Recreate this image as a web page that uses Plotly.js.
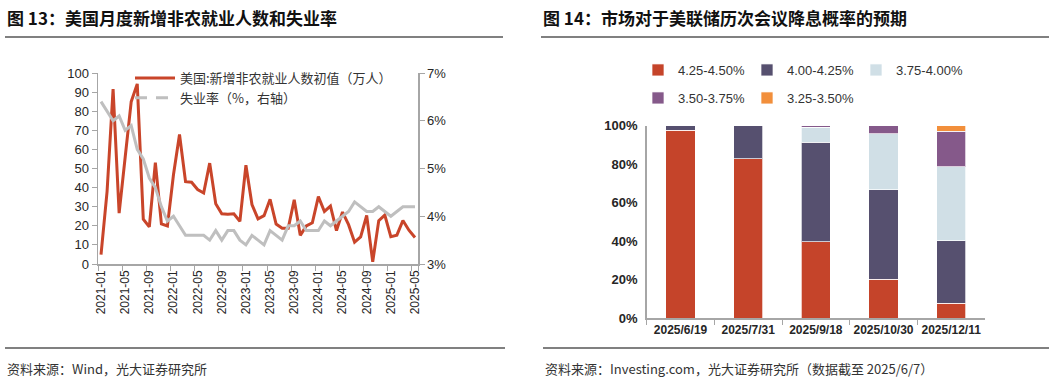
<!DOCTYPE html>
<html>
<head>
<meta charset="utf-8">
<script src="https://cdn.plot.ly/plotly-3.0.1.min.js"></script>
<style>
html,body{margin:0;padding:0;background:#fff;}
#chart{width:1054px;height:383px;}
</style>
</head>
<body>
<div id="chart"></div>
<script>
// ---- Left chart data ----
const months = [
 "2021-01","2021-02","2021-03","2021-04","2021-05","2021-06","2021-07","2021-08","2021-09","2021-10","2021-11","2021-12",
 "2022-01","2022-02","2022-03","2022-04","2022-05","2022-06","2022-07","2022-08","2022-09","2022-10","2022-11","2022-12",
 "2023-01","2023-02","2023-03","2023-04","2023-05","2023-06","2023-07","2023-08","2023-09","2023-10","2023-11","2023-12",
 "2024-01","2024-02","2024-03","2024-04","2024-05","2024-06","2024-07","2024-08","2024-09","2024-10","2024-11","2024-12",
 "2025-01","2025-02","2025-03","2025-04","2025-05"];
const payrolls = [
 4.9,37.9,91.6,26.6,55.9,85.0,94.3,23.5,19.4,53.1,21.0,19.9,
 46.7,67.8,43.1,42.8,39.0,37.2,52.8,31.5,26.3,26.1,26.3,22.3,
 51.7,31.1,23.6,25.3,33.9,20.9,18.7,18.7,33.6,15.0,19.9,21.6,
 35.3,27.5,30.3,17.5,27.2,20.6,11.4,14.2,25.4,1.2,22.7,25.6,
 14.3,15.1,22.8,17.7,13.9];
const unemployment = [
 6.4,6.2,6.0,6.1,5.8,5.9,5.4,5.2,4.8,4.6,4.2,3.9,
 4.0,3.8,3.6,3.6,3.6,3.6,3.5,3.7,3.5,3.7,3.7,3.5,
 3.4,3.6,3.5,3.4,3.7,3.6,3.5,3.8,3.8,3.9,3.7,3.7,
 3.7,3.9,3.8,3.9,4.0,4.1,4.3,4.2,4.1,4.1,4.2,4.1,
 4.0,4.1,4.2,4.2,4.2];
const leftTickLabels = ["2021-01","2021-05","2021-09","2022-01","2022-05","2022-09","2023-01","2023-05","2023-09","2024-01","2024-05","2024-09","2025-01","2025-05"];

// ---- Right chart data ----
const meetings = ["2025/6/19","2025/7/31","2025/9/18","2025/10/30","2025/12/11"];
const r425_450 = [97.6, 82.9, 39.7, 20.1, 7.6];
const r400_425 = [2.4, 17.1, 51.7, 46.5, 32.6];
const r375_400 = [0, 0, 7.9, 29.1, 38.5];
const r350_375 = [0, 0, 0.7, 4.2, 18.5];
const r325_350 = [0, 0, 0, 0.1, 2.8];
const rangeNames = ["4.25-4.50%","4.00-4.25%","3.75-4.00%","3.50-3.75%","3.25-3.50%"];
const rangeColors = ["#c5442a","#56506f","#d0dfe6","#85598a","#f28f3b"];

const W = 1054, H = 383;
const px = x => x / W;
const py = y => (H - y) / H;

const FONT_LAT = "Liberation Sans, Arial, sans-serif";
const FONT_CJK = "Noto Sans CJK SC, sans-serif";
const AXIS_GRAY = "#a6a6a6";

const traces = [
  {
    type: "scatter", mode: "lines", x: months, y: payrolls,
    name: "美国:新增非农就业人数初值（万人）",
    line: {color: "#c9452a", width: 3},
    xaxis: "x", yaxis: "y", legend: "legend"
  },
  {
    type: "scatter", mode: "lines", x: months, y: unemployment,
    name: "失业率（%，右轴）", showlegend: false,
    line: {color: "#bfbfbf", width: 3},
    xaxis: "x", yaxis: "y2"
  },
  {
    type: "scatter", mode: "lines", x: [null], y: [null],
    name: "失业率（%，右轴）",
    line: {color: "#bfbfbf", width: 3, dash: "12px,9px"},
    xaxis: "x", yaxis: "y2", legend: "legend"
  }
];

const seriesVals = [r425_450, r400_425, r375_400, r350_375, r325_350];
seriesVals.forEach((vals, i) => {
  traces.push({
    type: "bar", x: meetings, y: vals, name: rangeNames[i],
    marker: {color: rangeColors[i], line: {color: "rgba(255,255,255,0.7)", width: 1}},
    xaxis: "x3", yaxis: "y3",
    legend: i < 3 ? "legend2" : "legend3"
  });
});

const layout = {
  width: W, height: H,
  margin: {l: 0, r: 0, t: 0, b: 0},
  paper_bgcolor: "#fff", plot_bgcolor: "rgba(0,0,0,0)",
  showlegend: true,
  barmode: "stack", bargap: 0.57,
  font: {family: FONT_LAT, color: "#262626", size: 13},
  xaxis: {
    domain: [px(98), px(418)], anchor: "y",
    type: "category", range: [-0.5, 52.5],
    tickmode: "array", tickvals: leftTickLabels, ticktext: leftTickLabels,
    tickson: "boundaries",
    tickangle: -90, tickfont: {family: FONT_LAT, size: 12, color: "#262626"},
    showline: true, linecolor: AXIS_GRAY, linewidth: 1.5,
    ticks: "outside", ticklen: 5, tickcolor: AXIS_GRAY,
    showgrid: false, zeroline: false, fixedrange: true
  },
  yaxis: {
    domain: [py(264), py(73)], anchor: "x",
    range: [0, 100], dtick: 10,
    tickfont: {family: FONT_LAT, size: 13, color: "#262626"},
    showline: true, linecolor: AXIS_GRAY, linewidth: 1.5,
    ticks: "outside", ticklen: 5, tickcolor: AXIS_GRAY,
    showgrid: false, zeroline: false
  },
  yaxis2: {
    overlaying: "y", side: "right", anchor: "x",
    range: [3, 7], dtick: 1, ticksuffix: "%",
    tickfont: {family: FONT_LAT, size: 13, color: "#262626"},
    showline: true, linecolor: AXIS_GRAY, linewidth: 1.5,
    ticks: "outside", ticklen: 5, tickcolor: AXIS_GRAY,
    showgrid: false, zeroline: false
  },
  xaxis3: {
    domain: [px(646.7), px(985)], anchor: "y3",
    type: "category", range: [-0.5, 4.5],
    tickson: "boundaries", tickangle: 0,
    tickfont: {family: FONT_LAT, size: 12, color: "#262626", weight: "bold"},
    showline: true, linecolor: AXIS_GRAY, linewidth: 1.5,
    ticks: "outside", ticklen: 5, tickcolor: AXIS_GRAY,
    showgrid: false, zeroline: false
  },
  yaxis3: {
    domain: [py(318), py(125.7)], anchor: "x3",
    range: [0, 100], dtick: 20, ticksuffix: "%",
    tickfont: {family: FONT_LAT, size: 13, color: "#262626", weight: "bold"},
    showline: true, linecolor: AXIS_GRAY, linewidth: 1.5,
    ticks: "outside", ticklen: 5, tickcolor: "rgba(0,0,0,0)",
    showgrid: false, zeroline: false
  },
  legend: {
    x: px(130), y: py(63), xanchor: "left", yanchor: "top",
    bgcolor: "rgba(0,0,0,0)", orientation: "v",
    font: {family: FONT_CJK, size: 13, color: "#333"},
    itemwidth: 40, tracegroupgap: 0
  },
  legend2: {
    x: px(638), y: py(55), xanchor: "left", yanchor: "top",
    bgcolor: "rgba(0,0,0,0)", orientation: "h", traceorder: "normal",
    entrywidth: 64,
    font: {family: FONT_LAT, size: 13, color: "#333"}
  },
  legend3: {
    x: px(638), y: py(83), xanchor: "left", yanchor: "top",
    bgcolor: "rgba(0,0,0,0)", orientation: "h", traceorder: "normal",
    entrywidth: 64,
    font: {family: FONT_LAT, size: 13, color: "#333"}
  },
  shapes: [
    {type: "line", xref: "paper", yref: "paper", x0: px(5), x1: px(503), y0: py(37), y1: py(37), line: {color: "#808080", width: 2}},
    {type: "line", xref: "paper", yref: "paper", x0: px(541), x1: px(1049), y0: py(37), y1: py(37), line: {color: "#808080", width: 2}},
    {type: "line", xref: "paper", yref: "paper", x0: px(5), x1: px(505), y0: py(348), y1: py(348), line: {color: "#808080", width: 2}},
    {type: "line", xref: "paper", yref: "paper", x0: px(543), x1: px(1049), y0: py(348), y1: py(348), line: {color: "#808080", width: 2}}
  ],
  annotations: [
    {text: "图 13：美国月度新增非农就业人数和失业率", xref: "paper", yref: "paper", x: px(5), y: py(17), xanchor: "left", yanchor: "middle", showarrow: false,
     font: {family: FONT_CJK, size: 17, color: "#111", weight: "bold"}},
    {text: "图 14：市场对于美联储历次会议降息概率的预期", xref: "paper", yref: "paper", x: px(541), y: py(17), xanchor: "left", yanchor: "middle", showarrow: false,
     font: {family: FONT_CJK, size: 17, color: "#111", weight: "bold"}},
    {text: "资料来源：Wind，光大证券研究所", xref: "paper", yref: "paper", x: px(5), y: py(368), xanchor: "left", yanchor: "middle", showarrow: false,
     font: {family: FONT_CJK, size: 13, color: "#333"}},
    {text: "资料来源：Investing.com，光大证券研究所（数据截至 2025/6/7）", xref: "paper", yref: "paper", x: px(543), y: py(368), xanchor: "left", yanchor: "middle", showarrow: false,
     font: {family: FONT_CJK, size: 13, color: "#333"}}
  ]
};

Plotly.newPlot("chart", traces, layout, {staticPlot: true, displayModeBar: false});
</script>
</body>
</html>
